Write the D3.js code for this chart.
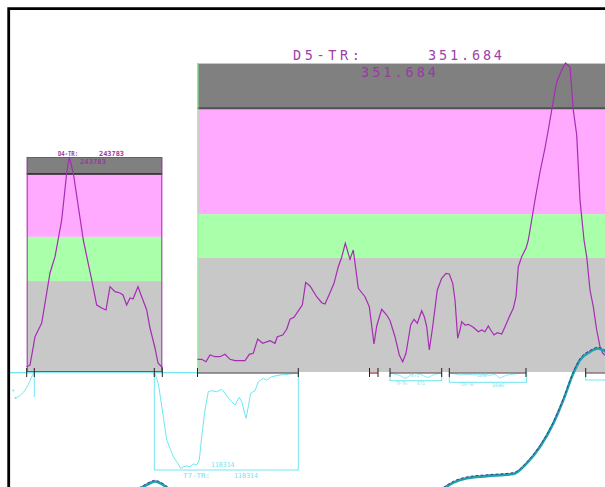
<!DOCTYPE html>
<html><head><meta charset="utf-8">
<script src="https://cdn.jsdelivr.net/npm/d3@7"></script>
<style>html,body{margin:0;padding:0;background:#fff;}svg{display:block;}</style>
</head><body><svg id="c" width="605" height="487"></svg>
<script>
// ---------- data: [retention time (min), signal] ----------
const d4Trace = [[2.67,6010],[3.00,7937],[3.33,28688],[3.50,40027],[3.83,47624],[4.17,55561],[5.00,112256],[5.50,130738],[6.17,172353],[6.67,225646],[6.93,243783],[7.33,225646],[8.33,149675],[9.17,104319],[9.67,75971],[10.17,72570],[10.60,70302],[11.00,96722],[11.50,91052],[12.00,89578],[12.30,87310],[12.67,75971],[13.00,83909],[13.30,82775],[13.80,96722],[14.17,85383],[14.67,70302],[15.00,49892],[15.50,27214],[15.80,10205],[16.27,4536]];

const d5Trace = [[19.75,14454],[20.17,14454],[20.60,11723],[21.00,19348],[21.50,17414],[22.00,17414],[22.50,20145],[23.00,14454],[23.50,12861],[24.50,12861],[24.93,20145],[25.33,21283],[25.77,37559],[26.27,32665],[27.00,35624],[27.50,32665],[27.73,40176],[28.27,42111],[28.67,48599],[29.00,59980],[29.40,62256],[30.00,72500],[30.23,76255],[30.57,102091],[31.00,97880],[31.67,85702],[32.17,78873],[32.50,77394],[33.00,90254],[33.40,100953],[33.83,119846],[34.17,130544],[34.53,146478],[35.00,128267],[35.33,138853],[35.83,95262],[36.50,85702],[36.93,74321],[37.40,31868],[37.67,52354],[38.17,71361],[38.67,64874],[39.00,58614],[39.50,40176],[39.93,19348],[40.27,11723],[40.60,21283],[41.07,53493],[41.40,59980],[41.73,55427],[42.17,69768],[42.43,62939],[42.67,51558],[42.93,25039],[43.27,51558],[43.73,93327],[44.17,106643],[44.60,112335],[44.93,111538],[45.27,100953],[45.50,81946],[45.77,38355],[46.00,47802],[46.17,57248],[46.50,53493],[46.83,54289],[47.33,50875],[47.83,45867],[48.17,47802],[48.50,45867],[48.83,52354],[49.07,47802],[49.40,42111],[49.73,44729],[50.17,43249],[50.50,51558],[50.93,62939],[51.33,72500],[51.60,85702],[51.83,119846],[52.17,131228],[52.60,140787],[52.83,150234],[53.17,173022],[53.50,195786],[54.00,227628],[54.50,254943],[54.83,275430],[55.17,298193],[55.67,330061],[56.17,343718],[56.55,351684],[57.00,347132],[57.33,298193],[57.67,269739],[58.00,195760],[58.40,150234],[58.67,131228],[59.00,93327],[59.33,74321],[59.67,47802],[60.00,28795],[60.27,21283],[60.50,19348],[60.80,15934]];

// inverted trace under the first window
const t7Trace = [[15.50,691],[15.83,12206],[16.33,50666],[16.67,77496],[17.00,87054],[17.33,96726],[17.67,102484],[18.07,110314],[18.33,108241],[18.67,107435],[19.00,108241],[19.33,105132],[19.67,106283],[19.93,100526],[20.17,73696],[20.50,42951],[20.83,21879],[21.17,20727],[21.67,21879],[22.17,19115],[22.50,23721],[23.00,31436],[23.50,37194],[23.93,28327],[24.17,33394],[24.60,52508],[24.83,39151],[25.07,23721],[25.50,20727],[25.83,10364],[26.33,6449],[26.67,8406],[27.17,4606],[28.00,2648],[29.00,1497],[29.83,0]];
const t9Trace = [[39.00,0],[39.50,195],[40.00,420],[40.50,871],[40.80,645],[41.10,270],[41.40,120],[42.00,195],[42.50,570],[42.80,720],[43.20,420],[43.60,195],[44.10,45]];
const t10Trace = [[44.93,20],[45.50,120],[46.00,230],[46.50,190],[47.00,160],[47.50,230],[48.00,120],[48.50,160],[49.00,270],[49.50,160],[50.00,560],[50.30,400],[50.70,240],[51.20,160],[51.80,90],[52.60,20]];
const leftTrace = [[1.50,1600],[2.00,1500],[2.67,1000],[3.00,500],[3.33,40]];

// absorbance trace drawn across the lower area
const uvTrace = [[12.0,0.42],[13.0,0.46],[14.3,0.489],[15.0,0.503],[15.5,0.509],[16.0,0.503],[16.6,0.489],[18.0,0.44],[20.0,0.40],[30.0,0.29],[40.0,0.36],[44.6,0.489],[45.33,0.505],[46.67,0.521],[48.67,0.529],[51.33,0.537],[52.67,0.576],[54.0,0.637],[55.33,0.723],[56.33,0.809],[57.33,0.907],[58.0,0.956],[59.0,0.986],[59.8,0.998],[60.5,0.987],[61.5,0.95]];

// band limits (signal units) for each panel, bottom to top
const d4Bands = [0, 103100, 153300, 224500, 243783];
const d5Bands = [0, 129800, 179700, 300300, 351684];
const bandColors = ["#c8c8c8", "#aaffaa", "#ffaaff", "#808080"];

// integration windows and tick marks
const d5Windows = [[19.75, 29.83], [36.95, 37.80], [39.00, 44.17], [44.93, 52.60], [58.57, 62.00]];
const d4Ticks = [2.67, 3.43, 15.43, 16.23];

// labels
const d4Name = "D4-TR:", d4Max = "243783";
const d5Name = "D5-TR:", d5Max = "351.684";
const t7Name = "T7-TR:", t7Max = "110314";
const t9Name = "T9-TR:", t9Max = "871";
const t10Name = "T10-TR:", t10Max = "1646";

// ---------- scales ----------
const svg = d3.select("#c");
const x = d3.scaleLinear().domain([0, 60.5]).range([0, 605]);
const yD4 = d3.scaleLinear().domain([0, 243783]).range([372, 157]);
const yD5 = d3.scaleLinear().domain([0, 351684]).range([372, 63]);
const yT7 = d3.scaleLinear().domain([0, 110314]).range([372.7, 468.5]);
const yT9 = d3.scaleLinear().domain([0, 871]).range([372.7, 378.5]);
const yT10 = d3.scaleLinear().domain([0, 1000]).range([372.7, 382.7]);
const yLeft = d3.scaleLinear().domain([0, 1600]).range([372.7, 398]);
const yUV = d3.scaleLinear().domain([0, 1]).range([620, 348]);

svg.append("defs").append("clipPath").attr("id", "inner")
  .append("rect").attr("x", 10).attr("y", 10).attr("width", 600).attr("height", 480);
const g = svg.append("g").attr("clip-path", "url(#inner)");

const purple = "#a62cb4", labelPurple = "#9a3aa0", cyan = "#6fe6f0";

// ---------- panels ----------
function panel(t0, t1, bands, y, border, sepColor, sepWidth) {
  const pg = g.append("g");
  for (let i = 0; i < 4; i++) {
    pg.append("rect").attr("x", x(t0)).attr("width", x(t1) - x(t0))
      .attr("y", y(bands[i + 1])).attr("height", y(bands[i]) - y(bands[i + 1]))
      .attr("fill", bandColors[i]);
  }
  pg.append("line").attr("x1", x(t0)).attr("x2", x(t1))
    .attr("y1", y(bands[3])).attr("y2", y(bands[3]))
    .attr("stroke", sepColor).attr("stroke-width", sepWidth);
  pg.append("rect").attr("x", x(t0) + 0.5).attr("width", x(t1) - x(t0) - 1)
    .attr("y", y(bands[4]) + 0.5).attr("height", y(0) - y(bands[4]) - 1)
    .attr("fill", "none").attr("stroke", border).attr("stroke-width", 1);
  return pg;
}
panel(2.67, 16.23, d4Bands, yD4, "#a830b4", "#202020", 1.5);
panel(19.75, 62.5, d5Bands, yD5, "#8ef08e", "#505050", 2);

// ---------- cyan sub-traces ----------
const cy = g.append("g").attr("fill", "none").attr("stroke", cyan).attr("stroke-width", 1);
cy.append("line").attr("x1", x(1.0)).attr("x2", x(29.83)).attr("y1", 372.7).attr("y2", 372.7);
cy.append("path").attr("d", `M${x(1.0)},372.7H${x(3.43)}V${yLeft(1600) - 1}`);
function box(t0, t1, yb) {
  cy.append("rect").attr("x", x(t0)).attr("y", 372.7).attr("width", x(t1) - x(t0)).attr("height", yb - 372.7);
}
box(15.43, 29.83, 470);
box(39.00, 44.17, 380.7);
box(44.93, 52.67, 382.3);
box(58.57, 62.0, 380);
const lineOf = (ys) => d3.line().x(d => x(d[0])).y(d => ys(d[1]));
cy.append("path").attr("d", lineOf(yT7)(t7Trace));
cy.append("path").attr("d", lineOf(yT9)(t9Trace)).attr("stroke-width", 0.8);
cy.append("path").attr("d", lineOf(yT10)(t10Trace)).attr("stroke-width", 0.8);
cy.append("path").attr("d", d3.line().curve(d3.curveBasis).x(d => x(d[0])).y(d => yLeft(d[1]))(leftTrace));
cy.selectAll("circle.dot").data([[1.33, 390.5], [1.55, 398]]).join("circle")
  .attr("cx", d => x(d[0])).attr("cy", d => d[1]).attr("r", 1).attr("fill", cyan).attr("stroke", "none");

// ---------- integration baselines ----------
const bl = g.append("g");
d5Windows.forEach(([a, b]) => {
  bl.append("line").attr("x1", x(a)).attr("x2", x(b)).attr("y1", 373).attr("y2", 373)
    .attr("stroke", "#a02828").attr("stroke-width", 1.2);
  [a, b].forEach(t => bl.append("line").attr("x1", x(t)).attr("x2", x(t))
    .attr("y1", 368).attr("y2", 377).attr("stroke", "#222").attr("stroke-width", 1));
});
d4Ticks.forEach(t => bl.append("line").attr("x1", x(t)).attr("x2", x(t))
  .attr("y1", 368).attr("y2", 377).attr("stroke", "#222").attr("stroke-width", 1));

// ---------- chromatogram traces ----------
g.append("path").attr("d", lineOf(yD4)(d4Trace)).attr("fill", "none").attr("stroke", purple).attr("stroke-width", 1.2);
g.append("path").attr("d", lineOf(yD5)(d5Trace)).attr("fill", "none").attr("stroke", purple).attr("stroke-width", 1.2);

// ---------- labels ----------
const small = "DejaVu Sans Mono, monospace";
function txt(s, xx, yy, size, fill, len, fam, adjust, weight) {
  g.append("text").attr("x", xx).attr("y", yy).text(s)
    .attr("font-family", fam || small).attr("font-size", size).attr("fill", fill)
    .attr("font-weight", weight || "normal")
    .attr("textLength", len).attr("lengthAdjust", adjust || "spacingAndGlyphs");
}
txt(d4Name, 58, 156, 7, labelPurple, 20, null, null, "bold");
txt(d4Max, 99, 156, 7, labelPurple, 25, null, null, "bold");
txt(d4Max, 80, 164, 7, labelPurple, 26, null, null, "bold");
txt(d5Name, 293, 60, 13.5, "#a040a8", 67, small, "spacing");
txt(d5Max, 428, 60, 13.5, "#a040a8", 74, small, "spacing");
txt(d5Max, 361, 76.5, 13.5, "#9a3aa0", 75, small, "spacing");
txt(t7Max, 211, 467, 7, cyan, 23.5);
txt(t7Name, 183, 477.5, 7, cyan, 27);
txt(t7Max, 234, 477.5, 7, cyan, 24);
txt(t9Max, 411, 377, 5, cyan, 8);
txt(t9Name, 396, 385, 5, cyan, 12);
txt(t9Max, 417, 385, 5, cyan, 8);
txt(t10Max, 477, 377, 5, cyan, 10);
txt(t10Name, 460, 386, 5, cyan, 15);
txt(t10Max, 492, 387, 5, cyan, 12);

// ---------- absorbance trace ----------
const uvLine = d3.line().curve(d3.curveMonotoneX).x(d => x(d[0])).y(d => yUV(d[1]));
g.append("path").attr("d", uvLine(uvTrace)).attr("fill", "none")
  .attr("stroke", "#1ea2ac").attr("stroke-width", 2.6);
g.append("path").attr("d", uvLine(uvTrace)).attr("fill", "none")
  .attr("transform", "translate(0,-1.3)")
  .attr("stroke", "#463c8e").attr("stroke-width", 1).attr("stroke-dasharray", "3,2");

// ---------- frame ----------
svg.append("path").attr("d", "M8.7,487V8.7H605").attr("fill", "none")
  .attr("stroke", "#000").attr("stroke-width", 2.8);
</script></body></html>
